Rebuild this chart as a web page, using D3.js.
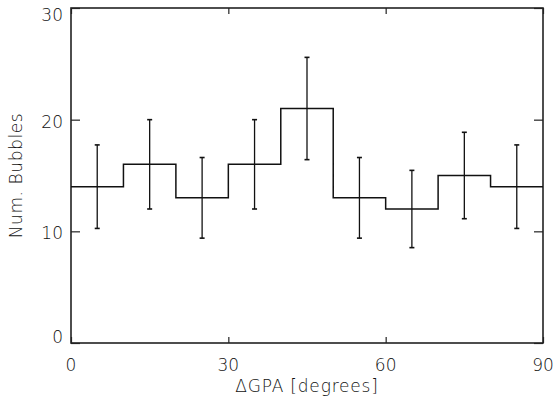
<!DOCTYPE html>
<html><head><meta charset="utf-8">
<script src="https://cdn.jsdelivr.net/npm/d3@7"></script>
<style>body{margin:0;background:#fff}svg{display:block}text{font-family:"DejaVu Sans",sans-serif;font-weight:300;fill:#111}</style>
</head><body>
<script>
const binStarts = [0, 10, 20, 30, 40, 50, 60, 70, 80];
const binWidth = 10;
const counts = [14, 16, 13, 16, 21, 13, 12, 15, 14];
const errors = [3.74, 4.0, 3.61, 4.0, 4.58, 3.61, 3.46, 3.87, 3.74];
const xTicks = [0, 30, 60, 90];
const yTicks = [0, 10, 20, 30];

const W = 558, H = 401;
const m = {left: 71, right: 15, top: 8, bottom: 58};
const svg = d3.select("body").append("svg").attr("width", W).attr("height", H);
const x = d3.scaleLinear().domain([0, 90]).range([m.left, W - m.right]);
const y = d3.scaleLinear().domain([0, 30]).range([H - m.bottom, m.top]);

const g = svg.append("g");
// frame
g.append("rect").attr("x", x(0)).attr("y", y(30)).attr("width", x(90) - x(0)).attr("height", y(0) - y(30))
  .attr("fill", "none").attr("stroke", "#222").attr("stroke-width", 1.6);

// ticks
const axB = d3.axisBottom(x).tickValues(xTicks).tickSize(-6).tickFormat("");
const axT = d3.axisTop(x).tickValues(xTicks).tickSize(-6).tickFormat("");
const axL = d3.axisLeft(y).tickValues(yTicks).tickSize(-9).tickFormat("");
const axR = d3.axisRight(y).tickValues(yTicks).tickSize(-9).tickFormat("");
[[axB, `translate(0,${y(0)})`], [axT, `translate(0,${y(30)})`], [axL, `translate(${x(0)},0)`], [axR, `translate(${x(90)},0)`]]
  .forEach(([a, t]) => {
    const ag = g.append("g").attr("transform", t).call(a);
    ag.select(".domain").remove();
    ag.selectAll("line").attr("stroke", "#222").attr("stroke-width", 1.2);
  });

// tick labels
g.selectAll(".xl").data(xTicks).enter().append("text")
  .attr("x", d => x(d)).attr("y", 371).attr("text-anchor", "middle").attr("font-size", 17).text(d => d);
g.selectAll(".yl").data(yTicks).enter().append("text")
  .attr("x", 63).attr("y", d => Math.min(Math.max(y(d) + 2, 15), 337)).attr("dy", "0.35em")
  .attr("text-anchor", "end").attr("font-size", 17).text(d => d);

// axis titles
g.append("text").attr("x", (x(0) + x(90)) / 2).attr("y", 392).attr("text-anchor", "middle")
  .attr("font-size", 17).attr("letter-spacing", 0.8).text("ΔGPA [degrees]");
g.append("text").attr("transform", `translate(22,${(y(0) + y(30)) / 2}) rotate(-90)`)
  .attr("text-anchor", "middle").attr("font-size", 17).attr("letter-spacing", 0.6).text("Num. Bubbles");

// step histogram
const pts = [];
binStarts.forEach((s, i) => { pts.push([s, counts[i]]); pts.push([s + binWidth, counts[i]]); });
const line = d3.line().x(d => x(d[0])).y(d => y(d[1]));
g.append("path").attr("d", line(pts)).attr("fill", "none").attr("stroke", "#111").attr("stroke-width", 1.5);

// error bars
const eb = g.selectAll(".eb").data(binStarts).enter().append("g");
eb.append("line").attr("x1", (d) => x(d + binWidth / 2)).attr("x2", (d) => x(d + binWidth / 2))
  .attr("y1", (d, i) => y(counts[i] - errors[i])).attr("y2", (d, i) => y(counts[i] + errors[i]))
  .attr("stroke", "#111").attr("stroke-width", 1.3);
[-1, 1].forEach(sgn => {
  eb.append("line").attr("x1", d => x(d + binWidth / 2) - 2.5).attr("x2", d => x(d + binWidth / 2) + 2.5)
    .attr("y1", (d, i) => y(counts[i] + sgn * errors[i])).attr("y2", (d, i) => y(counts[i] + sgn * errors[i]))
    .attr("stroke", "#111").attr("stroke-width", 1.6);
});
</script>
</body></html>
